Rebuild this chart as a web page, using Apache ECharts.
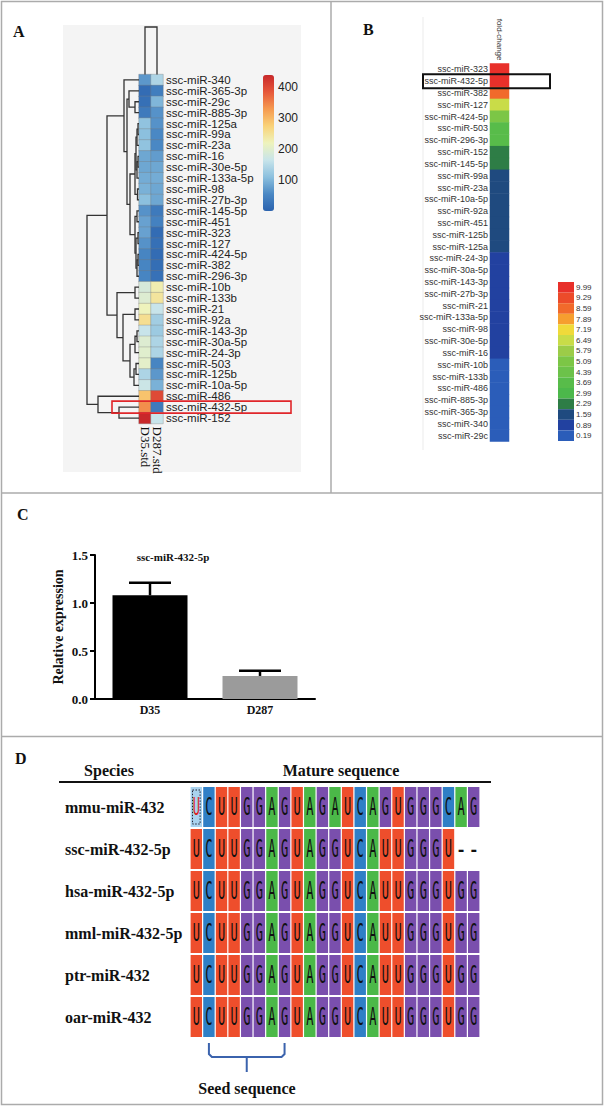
<!DOCTYPE html>
<html><head><meta charset="utf-8">
<script src="https://cdn.jsdelivr.net/npm/echarts@6/dist/echarts.min.js"></script>
<style>html,body{margin:0;padding:0;background:#fff}#c{width:604px;height:1107px}</style>
</head><body><div id="c"></div>
<script>
// ---------------- Panel A: clustered heatmap ----------------
const mirA = ['ssc-miR-340','ssc-miR-365-3p','ssc-miR-29c','ssc-miR-885-3p','ssc-miR-125a','ssc-miR-99a','ssc-miR-23a','ssc-miR-16','ssc-miR-30e-5p','ssc-miR-133a-5p','ssc-miR-98','ssc-miR-27b-3p','ssc-miR-145-5p','ssc-miR-451','ssc-miR-323','ssc-miR-127','ssc-miR-424-5p','ssc-miR-382','ssc-miR-296-3p','ssc-miR-10b','ssc-miR-133b','ssc-miR-21','ssc-miR-92a','ssc-miR-143-3p','ssc-miR-30a-5p','ssc-miR-24-3p','ssc-miR-503','ssc-miR-125b','ssc-miR-10a-5p','ssc-miR-486','ssc-miR-432-5p','ssc-miR-152'];
const samplesA = ['D35.std','D287.std'];
const d35Std  = [70,15,20,35,115,110,115,85,85,90,95,110,65,80,80,65,50,50,50,185,195,220,255,165,195,200,205,140,170,290,340,440];
const d287Std = [140,40,100,65,65,55,55,75,85,90,85,85,35,45,15,20,15,18,22,230,245,165,130,125,140,140,50,70,95,400,35,165];
const colorbarTicks = [100,200,300,400];
const colorbarRange = [0,440];
// row dendrogram, linkage style: [childA, childB, height]; leaves 0..31, merged nodes 32+
const rowLinkage = [
  [2,3,4],[1,32,10],[4,5,1],[34,6,2],[7,8,1],[36,9,2],[10,11,1.5],[35,37,3],[39,38,4],
  [12,13,2],[14,15,1],[16,17,1],[43,18,2],[42,44,3],[41,45,4],[40,46,9],[33,47,12],[0,48,15],
  [19,20,4],[21,22,4],[23,24,2],[52,25,4],[26,27,3],[54,28,5],[53,55,9],[51,56,16],[50,57,22],
  [49,58,32],[30,31,20],[29,60,41],[59,61,52]
];
const colLinkageHeight = 1;

// ---------------- Panel B: fold-change ----------------
const mirB = ['ssc-miR-323','ssc-miR-432-5p','ssc-miR-382','ssc-miR-127','ssc-miR-424-5p','ssc-miR-503','ssc-miR-296-3p','ssc-miR-152','ssc-miR-145-5p','ssc-miR-99a','ssc-miR-23a','ssc-miR-10a-5p','ssc-miR-92a','ssc-miR-451','ssc-miR-125b','ssc-miR-125a','ssc-miR-24-3p','ssc-miR-30a-5p','ssc-miR-143-3p','ssc-miR-27b-3p','ssc-miR-21','ssc-miR-133a-5p','ssc-miR-98','ssc-miR-30e-5p','ssc-miR-16','ssc-miR-10b','ssc-miR-133b','ssc-miR-486','ssc-miR-885-3p','ssc-miR-365-3p','ssc-miR-340','ssc-miR-29c'];
const foldChange = [9.99,9.75,8.59,6.49,5.09,3.69,3.69,2.29,2.29,1.59,1.59,1.59,1.59,1.59,1.59,1.59,0.89,0.89,0.89,0.89,0.89,0.89,0.89,0.89,0.89,0.19,0.19,0.19,0.19,0.19,0.19,0.19];
const foldLegend = [0.19,0.89,1.59,2.29,2.99,3.69,4.39,5.09,5.79,6.49,7.19,7.89,8.59,9.29,9.99];
const foldColors = ['#2b5db9','#2241a0','#1f4a7f','#2e7d46','#4cb84b','#58bc4a','#6cc24a','#7cc646','#9ccc48','#c9dc48','#f0da3a','#f69e2f','#f16a2b','#ec4b2a','#e8302a'];

// ---------------- Panel C: qPCR ----------------
const groupsC = ['D35','D287'];
const relExpr = [1.08,0.24];
const relErr  = [0.13,0.055];
const yTicksC = [0,0.5,1.0,1.5];

// ---------------- Panel D: alignment ----------------
const species = ['mmu-miR-432','ssc-miR-432-5p','hsa-miR-432-5p','mml-miR-432-5p','ptr-miR-432','oar-miR-432'];
const matureSeqs = ['UCUUGGAGUAGAUCAGUGGGCAG','UCUUGGAGUAGGUCAUUGGGU--','UCUUGGAGUAGGUCAUUGGGUGG','UCUUGGAGUAGGUCAUUGGGUGG','UCUUGGAGUAGGUCAUUGGGUGG','UCUUGGAGUAGGUCAUUGGGUGG'];
const highlightCells = [[0,0]]; // [row, col]
const seedRange = [1,7];

// ---------------- build ----------------
const SERIF = "'Liberation Serif','Times New Roman',serif";
const SANS = "'Liberation Sans',Arial,sans-serif";
const MONO = "'DejaVu Sans Mono','Liberation Mono',monospace";
const baseColors = {U:'#ee4e2c', C:'#2f7fc6', G:'#7a4fad', A:'#4bb848'};

const heatA = [];
mirA.forEach((m,i)=>{ heatA.push([0,i,d35Std[i]]); heatA.push([1,i,d287Std[i]]); });
const heatB = foldChange.map((v,i)=>[0,i,v]);

const nLeaves = mirA.length;
const nodeY = [], nodeH = [];
for (let i=0;i<nLeaves;i++){ nodeY[i]=i+0.5; nodeH[i]=0; }
rowLinkage.forEach((m,k)=>{ const id=nLeaves+k; nodeY[id]=(nodeY[m[0]]+nodeY[m[1]])/2; nodeH[id]=m[2]; });

const cellsD = [];
matureSeqs.forEach((s,r)=>{ s.split('').forEach((ch,c)=>{
  const hl = highlightCells.some(h=>h[0]===r&&h[1]===c);
  cellsD.push({col:c,row:r,ch:ch,hl:hl});
});});
const colsD = matureSeqs[0].split('').map((_,i)=>String(i+1));

const hide = {show:false};
const option = {
  animation:false,
  textStyle:{fontFamily:SANS},
  grid:[
    {left:139, top:74.5, width:24, height:349},
    {left:80, top:74.5, width:59, height:349},
    {left:139, top:27, width:24, height:47.5},
    {left:263, top:75, width:11, height:136},
    {left:490, top:63.5, width:19, height:378},
    {left:95, top:555, width:220, height:144},
    {left:190, top:786, width:290, height:252}
  ],
  xAxis:[
    {type:'category', gridIndex:0, data:samplesA, axisLine:hide, axisTick:hide, splitLine:hide,
     axisLabel:{rotate:-90, interval:0, fontFamily:SERIF, fontSize:13, lineHeight:11, color:'#111', margin:3}},
    {type:'value', gridIndex:1, min:0, max:59, inverse:true, show:false},
    {type:'category', gridIndex:2, data:samplesA, show:false},
    {type:'value', gridIndex:3, min:0, max:1, show:false},
    {type:'category', gridIndex:4, data:['fold-change'], position:'top', axisLine:hide, axisTick:hide,
     axisLabel:{rotate:90, fontSize:8, color:'#333', margin:3}},
    {type:'category', gridIndex:5, data:groupsC,
     axisLine:{lineStyle:{color:'#000', width:2}},
     axisTick:{alignWithLabel:true, length:5, lineStyle:{color:'#000', width:2}},
     axisLabel:{fontFamily:SERIF, fontWeight:'bold', fontSize:12, color:'#111', margin:5}},
    {type:'category', gridIndex:6, data:colsD, show:false}
  ],
  yAxis:[
    {type:'category', gridIndex:0, data:mirA, inverse:true, position:'right', axisLine:hide, axisTick:hide, splitLine:hide,
     axisLabel:{interval:0, fontSize:11.5, lineHeight:10, color:'#222', margin:3}},
    {type:'value', gridIndex:1, min:0, max:32, inverse:true, show:false},
    {type:'value', gridIndex:2, min:0, max:1, show:false},
    {type:'value', gridIndex:3, min:colorbarRange[0], max:colorbarRange[1], interval:100, position:'right',
     axisLine:hide, axisTick:hide, splitLine:hide,
     axisLabel:{fontSize:12, color:'#222', margin:4, formatter:v=>colorbarTicks.indexOf(v)>=0?String(v):''}},
    {type:'category', gridIndex:4, data:mirB, inverse:true, axisLine:hide, axisTick:hide,
     axisLabel:{interval:0, fontSize:9, lineHeight:10, color:'#333', margin:2}},
    {type:'value', gridIndex:5, min:yTicksC[0], max:yTicksC[yTicksC.length-1], interval:0.5,
     name:'Relative expression', nameLocation:'middle', nameGap:30,
     nameTextStyle:{fontFamily:SERIF, fontWeight:'bold', fontSize:14, color:'#111'},
     axisLine:{show:true, lineStyle:{color:'#000', width:2}},
     axisTick:{show:true, length:5, lineStyle:{color:'#000', width:2}}, splitLine:hide,
     axisLabel:{fontFamily:SERIF, fontWeight:'bold', fontSize:13, color:'#111', margin:7, formatter:v=>v.toFixed(1)}},
    {type:'category', gridIndex:6, data:species, inverse:true, axisLine:hide, axisTick:hide,
     axisLabel:{align:'left', margin:125, fontFamily:SERIF, fontWeight:'bold', fontSize:16, color:'#111'}}
  ],
  visualMap:[
    {type:'continuous', seriesIndex:0, min:colorbarRange[0], max:colorbarRange[1], calculable:false,
     left:263, top:75, itemWidth:11, itemHeight:136, padding:0, text:null, hoverLink:false,
     inRange:{color:['#2a62ae','#4a88c4','#8cc0de','#c8e4ea','#eef3bc','#f9d278','#f59a50','#e6573a','#c8282a']}},
    {type:'piecewise', seriesIndex:3, left:558, top:282, itemWidth:16, itemHeight:10.6, itemGap:0,
     itemSymbol:'rect', align:'left', textGap:2, padding:0, hoverLink:false,
     textStyle:{fontSize:8, color:'#333'},
     pieces: foldLegend.map((v,i)=>({min:v-0.35, max:v+0.35, label:v.toFixed(2), color:foldColors[i]}))}
  ],
  series:[
    {type:'heatmap', xAxisIndex:0, yAxisIndex:0, data:heatA,
     itemStyle:{borderColor:'rgba(120,120,120,0.55)', borderWidth:0.6}, emphasis:{disabled:true}},
    {type:'custom', xAxisIndex:1, yAxisIndex:1, data:rowLinkage.map(m=>[m[2],0]), silent:true,
     renderItem:(params,api)=>{
       const m = rowLinkage[params.dataIndex];
       const a=m[0], b=m[1], h=m[2];
       const pts = [api.coord([nodeH[a],nodeY[a]]), api.coord([h,nodeY[a]]), api.coord([h,nodeY[b]]), api.coord([nodeH[b],nodeY[b]])];
       return {type:'polyline', shape:{points:pts}, style:{stroke:'#333', lineWidth:1.3, fill:null}};
     }},
    {type:'custom', xAxisIndex:2, yAxisIndex:2, data:[[0,colLinkageHeight]], silent:true,
     renderItem:(params,api)=>{
       const pts=[api.coord([0,0]),api.coord([0,colLinkageHeight]),api.coord([1,colLinkageHeight]),api.coord([1,0])];
       return {type:'polyline', shape:{points:pts}, style:{stroke:'#333', lineWidth:1.3, fill:null}};
     }},
    {type:'heatmap', xAxisIndex:4, yAxisIndex:4, data:heatB, emphasis:{disabled:true}},
    {type:'bar', xAxisIndex:5, yAxisIndex:5, barWidth:75,
     data: relExpr.map((v,i)=>({value:v, itemStyle:{color: i===0?'#000':'#9b9b9b'}}))},
    {type:'custom', xAxisIndex:5, yAxisIndex:5, data:relExpr.map((v,i)=>[i,v,v+relErr[i]]), silent:true, z:5,
     renderItem:(params,api)=>{
       const p0=api.coord([api.value(0),api.value(1)]), p1=api.coord([api.value(0),api.value(2)]);
       return {type:'group', children:[
         {type:'line', shape:{x1:p0[0],y1:p0[1],x2:p1[0],y2:p1[1]}, style:{stroke:'#000', lineWidth:2.5}},
         {type:'line', shape:{x1:p1[0]-21,y1:p1[1],x2:p1[0]+21,y2:p1[1]}, style:{stroke:'#000', lineWidth:2.5}}
       ]};
     }},
    {type:'custom', xAxisIndex:6, yAxisIndex:6, data:cellsD.map(d=>[d.col,d.row]), silent:true,
     renderItem:(params,api)=>{
       const d = cellsD[params.dataIndex];
       const c = api.coord([d.col,d.row]); const s = api.size([1,1]);
       const w=s[0], h=s[1]; const ch=[];
       if (d.ch !== '-') ch.push({type:'rect', shape:{x:c[0]-w/2+0.6, y:c[1]-h/2+1, width:w-1.2, height:h-2},
         style:{fill: d.hl ? '#a9d2ee' : baseColors[d.ch]}});
       if (d.hl) ch.push({type:'rect', shape:{x:c[0]-w/2+2.5, y:c[1]-h/2+4, width:w-5, height:h-8},
         style:{fill:null, stroke:'#223', lineWidth:1, lineDash:[1.5,1.5]}});
       ch.push({type:'text', x:c[0], y:c[1], scaleY: d.ch==='-'?1:2.1,
         style:{text:d.ch, fontFamily:MONO, fontSize: d.ch==='-'?16:12, fontWeight: d.ch==='-'?'bold':'normal',
                fill: d.hl?'#d22':'#111', align:'center', verticalAlign:'middle'}});
       return {type:'group', children:ch};
     }},
    {type:'custom', xAxisIndex:6, yAxisIndex:6, data:[[seedRange[0],species.length-1]], silent:true, clip:false,
     renderItem:(params,api)=>{
       const last = species.length-1;
       const x1 = api.coord([seedRange[0],last])[0], x2 = api.coord([seedRange[1],last])[0];
       const y0 = api.coord([0,last])[1] + api.size([1,1])[1]/2;
       const cx=(x1+x2)/2, top=y0+5, mid=y0+19, tip=y0+34;
       return {type:'group', children:[
         {type:'polyline', shape:{points:[[x1,top],[x1,mid-3],[x1+3,mid],[x2-3,mid],[x2,mid-3],[x2,top]]}, style:{stroke:'#3b63ad', lineWidth:2, fill:null}},
         {type:'line', shape:{x1:cx,y1:mid,x2:cx,y2:tip}, style:{stroke:'#3b63ad', lineWidth:2}}
       ]};
     }}
  ]
};

const chart = echarts.init(document.getElementById('c'), null, {renderer:'svg', width:604, height:1107});
chart.setOption(option);

const yRed = chart.convertToPixel({yAxisIndex:0}, 'ssc-miR-432-5p');
const yBlk = chart.convertToPixel({yAxisIndex:4}, 'ssc-miR-432-5p');
const border = '#ababab';
const letter = (t,x,y)=>({type:'text', x:x, y:y, style:{text:t, fontFamily:SERIF, fontWeight:'bold', fontSize:16, fill:'#111', align:'left', verticalAlign:'middle'}});
chart.setOption({graphic:[
  {type:'rect', z:-10, shape:{x:63, y:25, width:238, height:447}, style:{fill:'#f4f4f4'}},
  {type:'line', z:-9, shape:{x1:423,y1:17,x2:423,y2:450}, style:{stroke:'#ebebeb', lineWidth:1}},
  {type:'rect', z:100, shape:{x:1.5, y:1.5, width:601, height:1103}, style:{fill:null, stroke:border, lineWidth:1.5}},
  {type:'line', z:100, shape:{x1:331,y1:1,x2:331,y2:493}, style:{stroke:border, lineWidth:1.5}},
  {type:'line', z:100, shape:{x1:1,y1:493,x2:603,y2:493}, style:{stroke:border, lineWidth:1.5}},
  {type:'line', z:100, shape:{x1:1,y1:736.5,x2:603,y2:736.5}, style:{stroke:border, lineWidth:1.5}},
  letter('A',13,31), letter('B',363,29), letter('C',17,514), letter('D',15,758),
  {type:'rect', z:100, shape:{x:112, y:yRed-6, width:179, height:12}, style:{fill:null, stroke:'#e0262a', lineWidth:1.6}},
  {type:'rect', z:100, shape:{x:423, y:yBlk-7, width:127, height:14}, style:{fill:null, stroke:'#111', lineWidth:2}},
  {type:'text', x:173, y:557, style:{text:'ssc-miR-432-5p', fontFamily:SERIF, fontWeight:'bold', fontSize:11, fill:'#111', align:'center', verticalAlign:'middle'}},
  {type:'text', x:109, y:770, style:{text:'Species', fontFamily:SERIF, fontWeight:'bold', fontSize:16, fill:'#111', align:'center', verticalAlign:'middle'}},
  {type:'text', x:341, y:770, style:{text:'Mature sequence', fontFamily:SERIF, fontWeight:'bold', fontSize:16, fill:'#111', align:'center', verticalAlign:'middle'}},
  {type:'line', shape:{x1:59,y1:782,x2:491,y2:782}, style:{stroke:'#111', lineWidth:2}},
  {type:'text', x:247, y:1088, style:{text:'Seed sequence', fontFamily:SERIF, fontWeight:'bold', fontSize:16, fill:'#111', align:'center', verticalAlign:'middle'}}
]});
</script>
</body></html>
